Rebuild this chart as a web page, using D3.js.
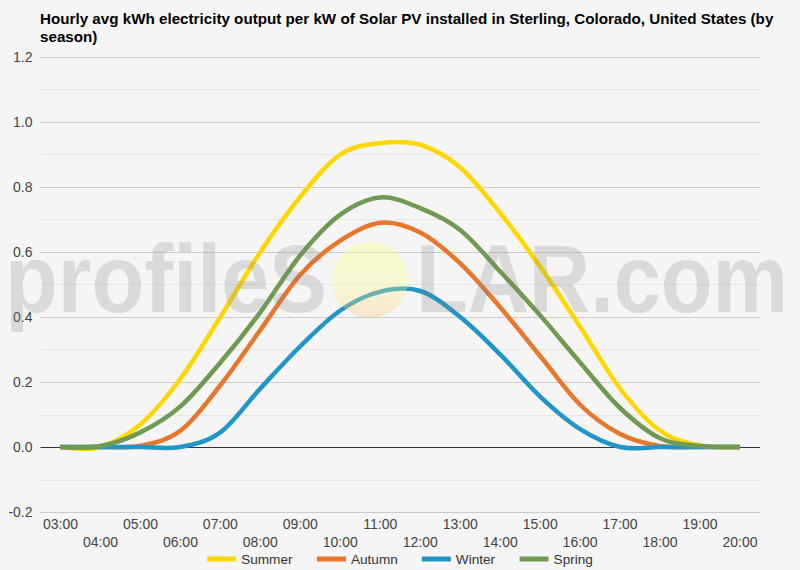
<!DOCTYPE html>
<html lang="en">
<head>
  <meta charset="utf-8">
  <title>Solar PV output by season</title>
  <script src="https://cdn.jsdelivr.net/npm/d3@7/dist/d3.min.js"></script>
  <style>
    body { margin: 0; background: #f5f5f5; }
    #chart text { font-family: "Liberation Sans", Arial, sans-serif; }
  </style>
</head>
<body>
  <div id="chart"></div>

  <script>
    "use strict"

    // hours along the x axis
    var hours = ["03:00", "04:00", "05:00", "06:00", "07:00", "08:00", "09:00", "10:00", "11:00",
                 "12:00", "13:00", "14:00", "15:00", "16:00", "17:00", "18:00", "19:00", "20:00"];

    // kWh per kW
    var summer = [0, 0, 0.07, 0.21, 0.40, 0.60, 0.77, 0.90, 0.935, 0.93, 0.86, 0.72, 0.555, 0.37, 0.18, 0.05, 0.005, 0];
    var autumn = [0, 0, 0.004, 0.05, 0.19, 0.36, 0.53, 0.635, 0.69, 0.66, 0.565, 0.43, 0.28, 0.13, 0.04, 0.003, 0, 0];
    var winter = [0, 0, 0, 0, 0.045, 0.18, 0.31, 0.42, 0.478, 0.48, 0.40, 0.285, 0.155, 0.055, 0, 0, 0, 0];
    var spring = [0, 0.003, 0.045, 0.125, 0.26, 0.415, 0.59, 0.715, 0.768, 0.735, 0.668, 0.54, 0.405, 0.26, 0.12, 0.027, 0.003, 0];

    var seriesNames = ["Summer", "Autumn", "Winter", "Spring"];
    var seriesColors = ["#ffd700", "#e8762b", "#2196c6", "#6e9a52"];
    var yTicks = [-0.2, 0, 0.2, 0.4, 0.6, 0.8, 1.0, 1.2];
    var title = ["Hourly avg kWh electricity output per kW of Solar PV installed in Sterling, Colorado, United States (by",
                 "season)"];

    var series = [summer, autumn, winter, spring].map(function (vals, i) {
      return { name: seriesNames[i], color: seriesColors[i], values: vals };
    });

    var width = 800, height = 570;
    var margin = { top: 57, right: 40, bottom: 58, left: 40.5 };

    var svg = d3.select("#chart").append("svg")
      .attr("width", width)
      .attr("height", height);

    svg.append("rect").attr("width", width).attr("height", height).attr("fill", "#f5f5f5");

    var x = d3.scaleBand()
      .domain(hours)
      .range([margin.left, width - margin.right]);

    var y = d3.scaleLinear()
      .domain([-0.2, 1.2])
      .range([height - margin.bottom, margin.top]);

    // title
    svg.append("g").selectAll("text")
      .data(title)
      .enter().append("text")
        .attr("x", 40)
        .attr("y", function (d, i) { return 24 + i * 18; })
        .attr("font-size", 15.2)
        .attr("font-weight", "bold")
        .attr("fill", "#000")
        .text(function (d) { return d; });

    // minor grid
    var minor = d3.range(-0.1, 1.2, 0.2);
    svg.append("g").selectAll("line")
      .data(minor)
      .enter().append("line")
        .attr("x1", margin.left).attr("x2", width - margin.right)
        .attr("y1", function (d) { return Math.round(y(d)) + 0.5; })
        .attr("y2", function (d) { return Math.round(y(d)) + 0.5; })
        .attr("stroke", "#e6e6e6");

    // y axis + major grid
    var yAxis = svg.append("g")
      .attr("transform", "translate(" + margin.left + ",0)")
      .call(d3.axisLeft(y).tickValues(yTicks).tickSize(-(width - margin.left - margin.right))
        .tickPadding(8).tickFormat(function (d) { return d.toFixed(1); }));
    yAxis.select(".domain").remove();
    yAxis.selectAll(".tick line").attr("stroke", function (d) { return d === 0 ? "#333" : "#cccccc"; });
    yAxis.selectAll(".tick text")
      .attr("font-size", 14).attr("fill", "#444")
      .attr("font-family", "'Liberation Sans', Arial, sans-serif");

    // x axis, labels staggered on two rows
    var xAxis = svg.append("g")
      .attr("transform", "translate(0," + (height - margin.bottom) + ")")
      .call(d3.axisBottom(x).tickSize(0).tickPadding(0));
    xAxis.select(".domain").remove();
    xAxis.selectAll(".tick text")
      .attr("font-size", 14).attr("fill", "#444")
      .attr("font-family", "'Liberation Sans', Arial, sans-serif")
      .attr("dy", null)
      .attr("y", function (d, i) { return i % 2 === 0 ? 17 : 35; });

    // lines
    var line = d3.line()
      .x(function (d, i) { return x(hours[i]) + x.bandwidth() / 2; })
      .y(function (d) { return y(d); })
      .curve(d3.curveCatmullRom.alpha(0));

    svg.append("g").selectAll("path")
      .data(series)
      .enter().append("path")
        .attr("d", function (d) { return line(d.values); })
        .attr("fill", "none")
        .attr("stroke", function (d) { return d.color; })
        .attr("stroke-width", 4.5)
        .attr("stroke-linejoin", "round");

    // watermark on top, semi transparent
    var defs = svg.append("defs");
    var grad = defs.append("linearGradient").attr("id", "sun")
      .attr("x1", 0).attr("y1", 0).attr("x2", 0).attr("y2", 1);
    grad.append("stop").attr("offset", "0%").attr("stop-color", "#ffff70");
    grad.append("stop").attr("offset", "55%").attr("stop-color", "#ffff90");
    grad.append("stop").attr("offset", "100%").attr("stop-color", "#ffc070");

    var wm = svg.append("g").attr("pointer-events", "none");
    wm.append("text")
      .attr("x", 5).attr("y", 312)
      .attr("font-size", 96).attr("font-weight", "bold")
      .attr("textLength", 322).attr("lengthAdjust", "spacingAndGlyphs")
      .attr("fill", "#808080").attr("fill-opacity", 0.23)
      .text("profileS");
    wm.append("circle")
      .attr("cx", 370).attr("cy", 280).attr("r", 38)
      .attr("fill", "url(#sun)").attr("fill-opacity", 0.32);
    wm.append("text")
      .attr("x", 416).attr("y", 312)
      .attr("font-size", 96).attr("font-weight", "bold")
      .attr("textLength", 372).attr("lengthAdjust", "spacingAndGlyphs")
      .attr("fill", "#808080").attr("fill-opacity", 0.23)
      .text("LAR.com");

    // legend, centred under the plot
    var legend = svg.append("g");
    var items = legend.selectAll("g")
      .data(series)
      .enter().append("g");
    items.append("rect")
      .attr("width", 29).attr("height", 5)
      .attr("y", 556.5)
      .attr("fill", function (d) { return d.color; });
    items.append("text")
      .attr("x", 34).attr("y", 564)
      .attr("font-size", 13.6).attr("fill", "#333")
      .text(function (d) { return d.name; });

    var pos = 0, offsets = [];
    items.each(function () {
      offsets.push(pos);
      pos += this.getBBox().width + 24;
    });
    var total = pos - 24;
    var start = 400 - total / 2;
    items.attr("transform", function (d, i) { return "translate(" + (start + offsets[i]) + ",0)"; });
  </script>
</body>
</html>
